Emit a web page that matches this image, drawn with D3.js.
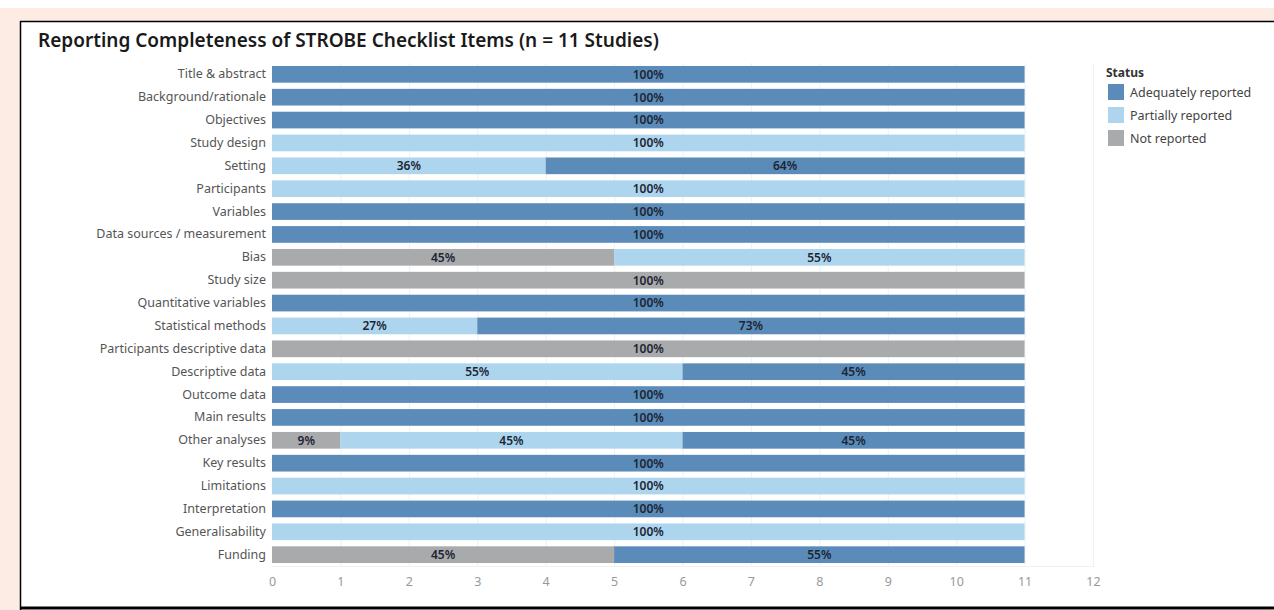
<!DOCTYPE html>
<html>
<head>
<meta charset="utf-8">
<script src="https://cdn.jsdelivr.net/npm/d3@7"></script>
<style>
  body { margin: 0; background: #fff; font-family: "Noto Sans", "Open Sans", sans-serif; }
  svg { display: block; }
</style>
</head>
<body>
<script>
// checklist items, top to bottom
const items = [
  "Title & abstract", "Background/rationale", "Objectives", "Study design", "Setting",
  "Participants", "Variables", "Data sources / measurement", "Bias", "Study size",
  "Quantitative variables", "Statistical methods", "Participants descriptive data",
  "Descriptive data", "Outcome data", "Main results", "Other analyses", "Key results",
  "Limitations", "Interpretation", "Generalisability", "Funding"
];
// number of studies (of 11) per status
const notReported      = [0, 0, 0, 0, 0, 0, 0, 0, 5, 11, 0, 0, 11, 0, 0, 0, 1, 0, 0, 0, 0, 5];
const partiallyRep     = [0, 0, 0, 11, 4, 11, 0, 0, 6, 0, 0, 3, 0, 6, 0, 0, 5, 0, 11, 0, 11, 0];
const adequatelyRep    = [11, 11, 11, 0, 7, 0, 11, 11, 0, 0, 11, 8, 0, 5, 11, 11, 5, 11, 0, 11, 0, 6];
const statuses = ["Not reported", "Partially reported", "Adequately reported"];
const legendOrder = ["Adequately reported", "Partially reported", "Not reported"];
const xTicks = [0, 1, 2, 3, 4, 5, 6, 7, 8, 9, 10, 11, 12];
const nStudies = 11;

const W = 1274, H = 610;
const svg = d3.select("body").append("svg").attr("width", W).attr("height", H);

// frame
svg.append("rect").attr("x", 0).attr("y", 8).attr("width", W).attr("height", 13).attr("fill", "#fdece3");
svg.append("rect").attr("x", 0).attr("y", 8).attr("width", 20).attr("height", H - 8).attr("fill", "#fdece3");
svg.append("line").attr("x1", 20).attr("x2", W).attr("y1", 21.5).attr("y2", 21.5).attr("stroke", "#000").attr("stroke-width", 1.5);
svg.append("line").attr("x1", 20.5).attr("x2", 20.5).attr("y1", 21).attr("y2", H).attr("stroke", "#000").attr("stroke-width", 1.5);
svg.append("line").attr("x1", 20).attr("x2", W).attr("y1", 608).attr("y2", 608).attr("stroke", "#000").attr("stroke-width", 3);

svg.append("text")
  .attr("x", 38).attr("y", 47)
  .style("font-size", "19px").style("font-weight", 600).attr("fill", "#1a1a1a")
  .text("Reporting Completeness of STROBE Checklist Items (n = 11 Studies)");

const color = d3.scaleOrdinal()
  .domain(statuses)
  .range(["#a9aaab", "#aed5ee", "#5b8cb9"]);

const x = d3.scaleLinear().domain([0, 12]).range([272, 1093]);
const y = d3.scaleBand().domain(items).range([63, 566]).paddingInner(0.27).paddingOuter(0.13);

// gridlines
svg.append("g").selectAll("line")
  .data(xTicks.slice(1))
  .join("line")
  .attr("x1", d => x(d) + 0.5).attr("x2", d => x(d) + 0.5)
  .attr("y1", 63).attr("y2", 567)
  .attr("stroke", "#f1f1f1");
svg.append("line").attr("x1", 272).attr("x2", x(12)).attr("y1", 566.5).attr("y2", 566.5).attr("stroke", "#f1f1f1");

const rows = items.map((name, i) => ({
  name,
  "Not reported": notReported[i],
  "Partially reported": partiallyRep[i],
  "Adequately reported": adequatelyRep[i]
}));
const series = d3.stack().keys(statuses)(rows);

const layer = svg.append("g").selectAll("g")
  .data(series)
  .join("g")
  .attr("fill", d => color(d.key));

layer.selectAll("rect")
  .data(d => d.filter(s => s[1] > s[0]))
  .join("rect")
  .attr("x", d => x(d[0]))
  .attr("y", d => y(d.data.name))
  .attr("width", d => x(d[1]) - x(d[0]))
  .attr("height", y.bandwidth());

layer.selectAll("text")
  .data(d => d.filter(s => s[1] > s[0]))
  .join("text")
  .attr("x", d => (x(d[0]) + x(d[1])) / 2)
  .attr("y", d => y(d.data.name) + y.bandwidth() / 2)
  .attr("dy", "0.36em")
  .attr("text-anchor", "middle")
  .attr("fill", "#1c2533")
  .style("font-size", "12px").style("font-weight", 600)
  .text(d => Math.round((d[1] - d[0]) / nStudies * 100) + "%");

// y axis labels
const yAxis = svg.append("g")
  .attr("transform", "translate(266,0)")
  .call(d3.axisLeft(y).tickSize(0).tickPadding(0));
yAxis.select(".domain").remove();
yAxis.selectAll("text").attr("fill", "#555").style("font-size", "12.5px").style("font-family", "Noto Sans");

// x axis
const xAxis = svg.append("g")
  .attr("transform", "translate(0,570)")
  .call(d3.axisBottom(x).tickValues(xTicks).tickSize(0).tickPadding(7).tickFormat(d3.format("d")));
xAxis.select(".domain").remove();
xAxis.selectAll("text").attr("fill", "#999").style("font-size", "12.5px").style("font-family", "Noto Sans");

// legend
const legend = svg.append("g").attr("transform", "translate(1106,0)");
legend.append("text").attr("x", 0).attr("y", 77)
  .style("font-size", "12px").style("font-weight", 700).attr("fill", "#333").text("Status");
const li = legend.selectAll(".li")
  .data(legendOrder)
  .join("g")
  .attr("class", "li")
  .attr("transform", (d, i) => "translate(0," + (84 + i * 23) + ")");
li.append("rect").attr("x", 2).attr("width", 16).attr("height", 16).attr("fill", d => color(d));
li.append("text").attr("x", 24).attr("y", 8).attr("dy", "0.36em")
  .style("font-size", "12.5px").attr("fill", "#444").text(d => d);
</script>
</body>
</html>
